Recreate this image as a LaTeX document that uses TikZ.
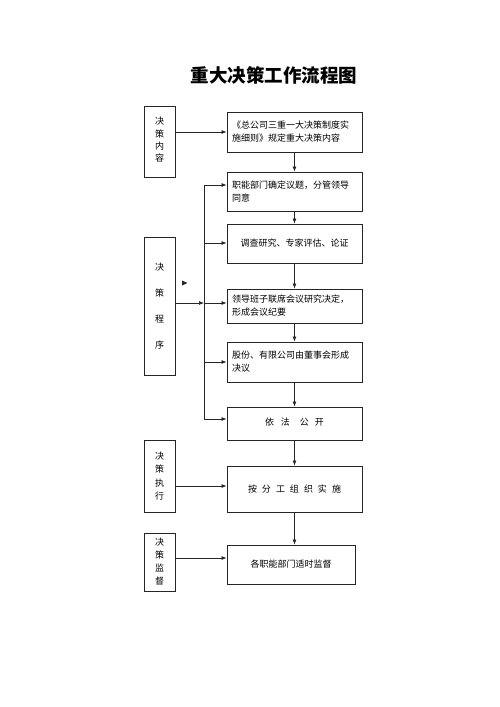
\documentclass[tikz,border=0pt]{standalone}
\usepackage{fontspec}
\setmainfont{Noto Sans CJK SC}
\XeTeXlinebreaklocale "zh"
\usetikzlibrary{arrows.meta,calc}
\begin{document}
\begin{tikzpicture}[x=1pt,y=-1pt,
  box/.style={draw=black!85,line width=0.9pt,inner sep=0pt,font=\fontsize{9}{13}\selectfont},
  side/.style={box,minimum width=31pt,align=center},
  lbox/.style={box,text width=125pt,inner xsep=5pt,align=left},
  cbox/.style={box,minimum width=135pt,align=center},
  plain/.style={draw=black!85,line width=0.7pt},
  conn/.style={plain,-{Latex[length=5pt,width=4pt]}}]
\useasboundingbox (0,0) rectangle (500,707);
\node[font=\fontsize{18.5}{20}\selectfont\bfseries] (title) at (274,75) {重大决策工作流程图};
% left column
\node[side,minimum height=71pt] (L1) at (159.5,141.5) {\raisebox{4pt}{\shortstack{决\\[1pt]策\\[1pt]内\\[1pt]容}}};
\node[side,minimum height=138pt,font=\fontsize{9}{26}\selectfont] (L2) at (159.5,306) {决\\策\\程\\序};
\node[side,minimum height=72pt,font=\fontsize{9}{13.5}\selectfont] (L3) at (159.5,476) {决\\策\\执\\行};
\node[side,minimum height=58pt] (L4) at (159.5,562) {决\\策\\监\\督};
% right column
\node[lbox,minimum height=40pt] (R1) at (294.5,132) {《总公司三重一大决策制度实\\施细则》规定重大决策内容};
\node[lbox,minimum height=39pt] (R2) at (294.5,191.5) {职能部门确定议题，分管领导\\同意};
\node[cbox,minimum height=39pt] (R3) at (294.5,243.5) {调查研究、专家评估、论证};
\node[lbox,minimum height=34pt] (R4) at (294.5,306) {领导班子联席会议研究决定，\\形成会议纪要};
\node[lbox,minimum height=40pt] (R5) at (294.5,362) {股份、有限公司由董事会形成\\决议};
\node[cbox,minimum height=33pt] (R6) at (294.5,423.5) {\raisebox{3pt}{依\hspace{7pt}法\hspace{10pt}公\hspace{6pt}开}};
\node[cbox,minimum height=46pt] (R7) at (294.5,489) {按\hspace{5pt}分\hspace{5pt}工\hspace{5pt}组\hspace{5pt}织\hspace{5pt}实\hspace{5pt}施};
\node[box,minimum width=128pt,minimum height=39pt] (R8) at (291,564.5) {各职能部门适时监督};
% vertical flow
\foreach \a/\b in {R1/R2,R2/R3,R3/R4,R4/R5,R5/R6,R6/R7}
  \draw[conn] (\a.south) -- (\b.north);
\draw[conn] (R7.south) -- (R7.south |- R8.north);
% bus
\coordinate (b2) at (204,185);
\coordinate (b3) at (204,243);
\coordinate (b4) at (204,303);
\coordinate (b5) at (204,362);
\coordinate (b6) at (204,419);
\draw[plain] (b2) -- (b6);
\foreach \c/\r in {b2/R2,b3/R3,b4/R4,b5/R5,b6/R6}
  \draw[conn] (\c) -- (\r.west |- \c);
\draw[conn] (L2.east |- b4) -- (b4);
% side arrows
\coordinate (y1) at (0,132);
\coordinate (y3) at (0,486);
\coordinate (y4) at (0,558);
\draw[conn] (L1.east |- y1) -- (R1.west |- y1);
\draw[conn] (L3.east |- y3) -- (R7.west |- y3);
\draw[conn] (L4.east |- y4) -- (R8.west |- y4);
% stray arrowhead
\fill[black!85] (182,280.5) -- (187.5,283) -- (182,285.5) -- cycle;
\end{tikzpicture}
\end{document}
